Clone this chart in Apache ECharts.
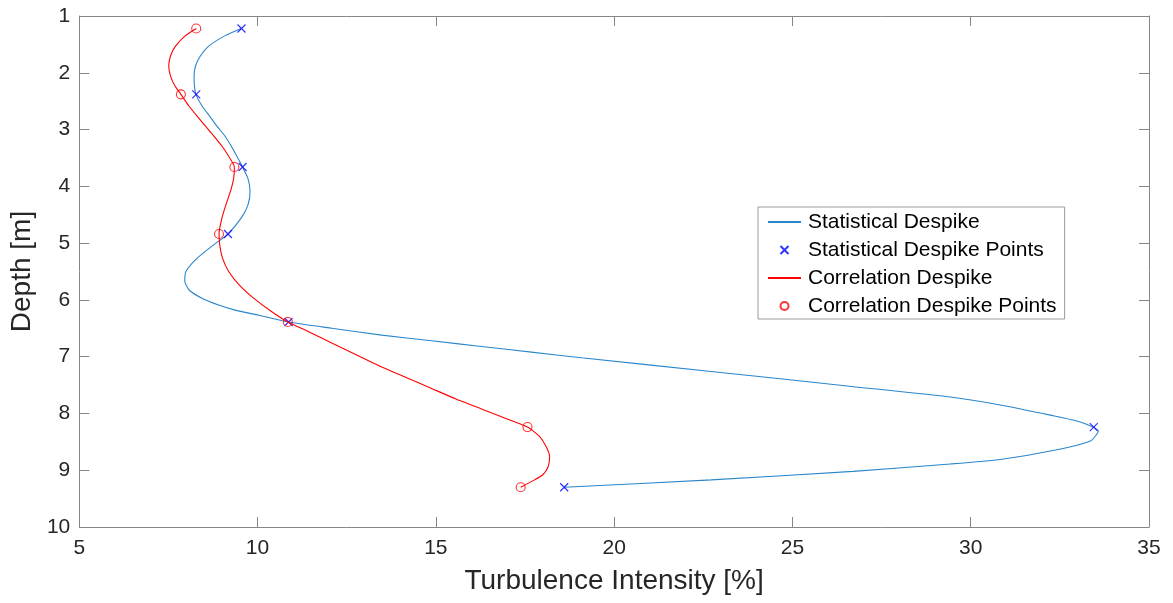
<!DOCTYPE html>
<html>
<head>
<meta charset="utf-8">
<title>Turbulence Intensity Profile</title>
<script src="https://cdn.jsdelivr.net/npm/echarts@6/dist/echarts.min.js"></script>
<style>
  html, body { margin: 0; padding: 0; background: #fff; }
  #chart { width: 1173px; height: 603px; }
</style>
</head>
<body>
<div id="chart"></div>
<script>
// Measured profiles: turbulence intensity [%] against depth [m]
const depthPoints = [1.22, 2.38, 3.66, 4.84, 6.39, 8.24, 9.30];
const statPointsTI = [9.55, 8.28, 9.58, 9.17, 10.87, 33.45, 18.60];
const corrPointsTI = [8.28, 7.85, 9.35, 8.92, 10.85, 17.57, 17.38];

// Fitted profile curves, sampled as [turbulence intensity, depth]
const statCurve = [
  [9.54, 1.22], [9.08, 1.35], [8.63, 1.53], [8.40, 1.70], [8.26, 1.88],
  [8.22, 2.06], [8.23, 2.23], [8.27, 2.38], [8.44, 2.58], [8.65, 2.76],
  [8.86, 2.94], [9.08, 3.11], [9.26, 3.29], [9.42, 3.47], [9.58, 3.66],
  [9.73, 3.86], [9.79, 4.09], [9.73, 4.33], [9.54, 4.56], [9.17, 4.84],
  [8.77, 5.03], [8.30, 5.27], [7.99, 5.50], [7.96, 5.67], [8.09, 5.83],
  [8.44, 5.97], [8.91, 6.09], [9.37, 6.18], [10.03, 6.27], [10.87, 6.39],
  [12.08, 6.50], [13.48, 6.62], [14.88, 6.72], [16.28, 6.82], [17.68, 6.92],
  [19.08, 7.02], [22.72, 7.26], [26.60, 7.52], [29.43, 7.71], [30.83, 7.85],
  [32.23, 8.03], [33.07, 8.15], [33.58, 8.31], [33.37, 8.48], [32.42, 8.64],
  [30.83, 8.81], [29.43, 8.89], [26.70, 9.02], [22.72, 9.17], [18.60, 9.30]
];
const corrCurve = [
  [8.28, 1.22], [7.97, 1.35], [7.70, 1.53], [7.56, 1.70], [7.51, 1.88],
  [7.56, 2.06], [7.68, 2.23], [7.85, 2.38], [8.07, 2.58], [8.30, 2.76],
  [8.54, 2.94], [8.77, 3.11], [9.00, 3.29], [9.19, 3.47], [9.35, 3.66],
  [9.33, 3.86], [9.24, 4.09], [9.11, 4.33], [9.00, 4.56], [8.92, 4.84],
  [8.94, 5.03], [9.02, 5.27], [9.19, 5.50], [9.49, 5.74], [9.89, 5.97],
  [10.40, 6.21], [10.85, 6.39], [11.43, 6.56], [12.08, 6.76], [12.78, 6.97],
  [13.48, 7.18], [14.18, 7.37], [14.88, 7.56], [15.58, 7.75], [16.28, 7.92],
  [16.93, 8.08], [17.57, 8.24], [17.90, 8.40], [18.10, 8.59], [18.19, 8.76],
  [18.15, 8.94], [18.00, 9.08], [17.77, 9.17], [17.38, 9.30]
];

const seriesNames = [
  'Statistical Despike',
  'Statistical Despike Points',
  'Correlation Despike',
  'Correlation Despike Points'
];

const FONT = '"Liberation Sans", Arial, Helvetica, sans-serif';
const AXIS_GRAY = '#868686';
const TEXT_DARK = '#262626';

const crossSymbol = 'path://M0,0L10,10M10,0L0,10';

function pairs(xs, ys) {
  return xs.map((x, i) => [x, ys[i]]);
}

function frameAxis(base, extra) {
  return Object.assign({
    type: 'value',
    axisLine: { show: true, onZero: false, lineStyle: { color: AXIS_GRAY, width: 1 } },
    axisTick: { show: true, inside: true, length: 10, lineStyle: { color: AXIS_GRAY, width: 1 } },
    splitLine: { show: false },
    axisLabel: { show: false }
  }, base, extra);
}

const chart = echarts.init(document.getElementById('chart'), null, { renderer: 'canvas' });

chart.setOption({
  backgroundColor: '#ffffff',
  animation: false,
  textStyle: { fontFamily: FONT },
  grid: { left: 77, right: 24, top: 16, bottom: 76, containLabel: false },
  xAxis: [
    frameAxis({ min: 5, max: 35, interval: 5, position: 'bottom' }, {
      name: 'Turbulence Intensity [%]',
      nameLocation: 'middle',
      nameGap: 40,
      nameTextStyle: { fontSize: 28, color: TEXT_DARK, fontFamily: FONT },
      axisLabel: { show: true, fontSize: 21, color: TEXT_DARK, margin: 11, fontFamily: FONT }
    }),
    frameAxis({ min: 5, max: 35, interval: 5, position: 'top' })
  ],
  yAxis: [
    frameAxis({ min: 1, max: 10, interval: 1, inverse: true, position: 'left' }, {
      name: 'Depth [m]',
      nameLocation: 'middle',
      nameGap: 32,
      nameRotate: 90,
      nameTextStyle: { fontSize: 28, color: TEXT_DARK, fontFamily: FONT },
      axisLabel: { show: true, fontSize: 21, color: TEXT_DARK, margin: 9, fontFamily: FONT }
    }),
    frameAxis({ min: 1, max: 10, interval: 1, inverse: true, position: 'right' })
  ],
  legend: {
    orient: 'vertical',
    left: 758,
    top: 207,
    data: [
      { name: seriesNames[0], itemStyle: { opacity: 0 } },
      { name: seriesNames[1] },
      { name: seriesNames[2], itemStyle: { opacity: 0 } },
      { name: seriesNames[3] }
    ],
    itemWidth: 33,
    itemHeight: 8,
    itemGap: 6,
    padding: [4, 8, 2, 9],
    backgroundColor: '#ffffff',
    borderColor: '#9a9a9a',
    borderWidth: 1,
    borderRadius: 0,
    selectedMode: false,
    textStyle: { fontSize: 21, lineHeight: 22, color: '#000000', fontFamily: FONT, padding: [0, 0, 0, 2] }
  },
  series: [
    {
      name: seriesNames[0],
      type: 'line',
      xAxisIndex: 0, yAxisIndex: 0,
      data: statCurve,
      symbol: 'none',
      smooth: 0.2,
      lineStyle: { color: '#2a86cb', width: 1.1 },
      itemStyle: { color: '#2a86cb' },
      z: 2
    },
    {
      name: seriesNames[1],
      type: 'scatter',
      xAxisIndex: 0, yAxisIndex: 0,
      data: pairs(statPointsTI, depthPoints),
      symbol: crossSymbol,
      symbolSize: 8,
      itemStyle: { color: 'rgba(0,0,0,0)', borderColor: '#0000FF', borderWidth: 1.2 },
      z: 3
    },
    {
      name: seriesNames[2],
      type: 'line',
      xAxisIndex: 0, yAxisIndex: 0,
      data: corrCurve,
      symbol: 'none',
      smooth: 0.2,
      lineStyle: { color: '#FF0000', width: 1.1 },
      itemStyle: { color: '#FF0000' },
      z: 4
    },
    {
      name: seriesNames[3],
      type: 'scatter',
      xAxisIndex: 0, yAxisIndex: 0,
      data: pairs(corrPointsTI, depthPoints),
      symbol: 'circle',
      symbolSize: 9,
      itemStyle: { color: 'rgba(0,0,0,0)', borderColor: '#FF0000', borderWidth: 1.1 },
      z: 5
    }
  ]
});
</script>
</body>
</html>
